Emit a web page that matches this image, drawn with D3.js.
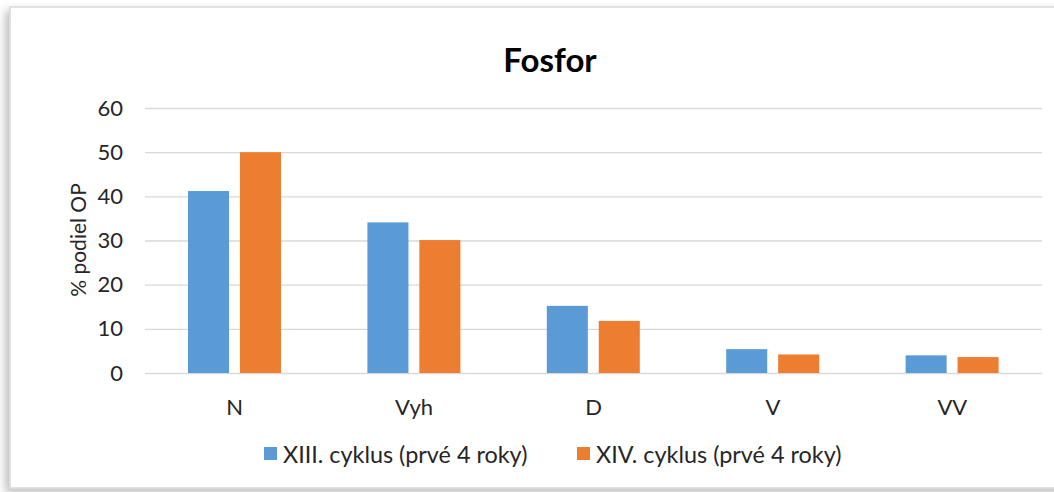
<!DOCTYPE html>
<html><head><meta charset="utf-8">
<script src="https://cdn.jsdelivr.net/npm/d3@7"></script>
<style>html,body{margin:0;padding:0;background:#fff;overflow:hidden}</style>
</head><body>
<svg id="c" width="1054" height="492"></svg>
<script>
const categories = ["N", "Vyh", "D", "V", "VV"];
const seriesNames = ["XIII. cyklus (prvé 4 roky)", "XIV. cyklus (prvé 4 roky)"];
const series1 = [41.2, 34.1, 15.2, 5.4, 4.0];
const series2 = [50.0, 30.1, 11.8, 4.2, 3.6];
const yTicks = [0, 10, 20, 30, 40, 50, 60];
const colors = ["#5b9bd5", "#ed7d31"];
const font = "Lato, 'Open Sans', sans-serif";

const svg = d3.select("#c");
const defs = svg.append("defs");
const f = defs.append("filter").attr("id","sh").attr("x","-5%").attr("y","-5%").attr("width","110%").attr("height","115%");
f.append("feDropShadow").attr("dx",-4).attr("dy",4).attr("stdDeviation",4).attr("flood-color","#000").attr("flood-opacity",0.25);

svg.append("rect").attr("x",10).attr("y",7).attr("width",1060).attr("height",481)
  .attr("fill","#fff").attr("stroke","#d9d9d9").attr("stroke-width",1.5).attr("filter","url(#sh)");

const x0 = d3.scaleBand().domain(categories).range([145, 1042]).paddingInner(0).paddingOuter(0);
const x1 = d3.scaleBand().domain([0,1]).range([43, 136]).paddingInner(0.21).paddingOuter(0);
const y = d3.scaleLinear().domain([0, 60]).range([373, 108]);

const yAxis = d3.axisLeft(y).tickValues(yTicks).tickSize(-(1042-145)).tickPadding(22);
const gy = svg.append("g").attr("transform","translate(145,0)").call(yAxis);
gy.select(".domain").remove();
gy.selectAll(".tick line").attr("stroke","#d9d9d9").attr("stroke-width",1.3);
gy.selectAll(".tick text").attr("font-family",font).attr("font-size",22).attr("fill","#262626");

const data = [series1, series2];
const g = svg.append("g");
categories.forEach((c, i) => {
  data.forEach((s, j) => {
    g.append("rect")
      .attr("x", x0(c) + x1(j)).attr("width", x1.bandwidth())
      .attr("y", y(s[i])).attr("height", y(0) - y(s[i]))
      .attr("fill", colors[j]);
  });
});

const xAxis = d3.axisBottom(x0).tickSize(0).tickPadding(26);
const gx = svg.append("g").attr("transform","translate(0,373)").call(xAxis);
gx.select(".domain").remove();
gx.selectAll(".tick text").attr("font-family",font).attr("font-size",22).attr("fill","#262626");

svg.append("text").attr("x",550).attr("y",72).attr("text-anchor","middle")
  .attr("font-family",font).attr("font-weight","bold").attr("font-size",33).attr("fill","#000").text("Fosfor");

svg.append("text").attr("transform","translate(86,240) rotate(-90)").attr("text-anchor","middle")
  .attr("font-family",font).attr("font-size",21).attr("fill","#262626").text("% podiel OP");

const legX = [264, 577];
seriesNames.forEach((n, j) => {
  svg.append("rect").attr("x",legX[j]).attr("y",447).attr("width",13).attr("height",13).attr("fill",colors[j]);
  svg.append("text").attr("x",legX[j]+19).attr("y",463).attr("font-family",font).attr("font-size",23.4)
    .attr("fill","#262626").text(n);
});
</script>
</body></html>
